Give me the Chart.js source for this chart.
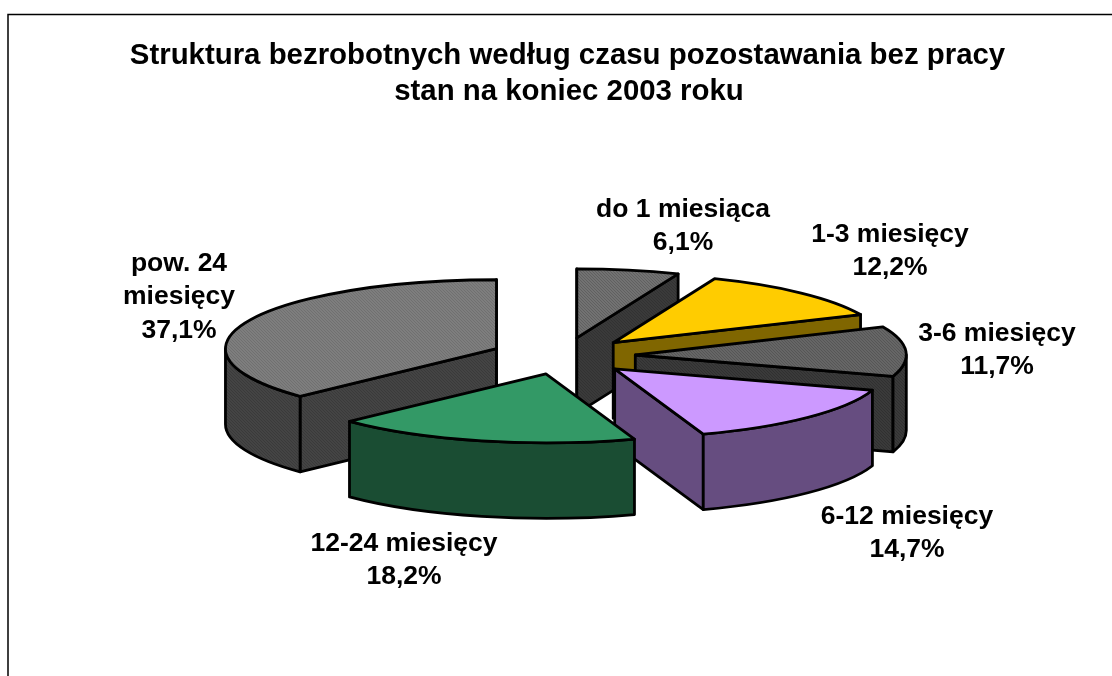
<!DOCTYPE html>
<html lang="pl">
<head>
<meta charset="utf-8">
<title>Struktura bezrobotnych</title>
<script src="https://cdn.jsdelivr.net/npm/chart.js@4"></script>
<style>
    html, body { margin: 0; padding: 0; background: #fff; overflow: hidden; }
    #wrap { width: 1112px; height: 676px; }
</style>
</head>
<body>
<div id="wrap"><canvas id="wykres" width="1112" height="676"></canvas></div>
<script>
// Dane
const kategorie = ['do 1 miesiąca', '1-3 miesięcy', '3-6 miesięcy', '6-12 miesięcy', '12-24 miesięcy', 'pow. 24 miesięcy'];
const udzialy = [6.1, 12.2, 11.7, 14.7, 18.2, 37.1];
const tytul = ['Struktura bezrobotnych według czasu pozostawania bez pracy', 'stan na koniec 2003 roku'];

// Kolory: [góra, bok]; dwa odcienie w szarych wycinkach dają raster jak w oryginale
const koloryGora = [['#727272', '#606060'], '#ffcc00', ['#666666', '#565656'], '#cc99ff', '#339966', ['#7e7e7e', '#707070']];
const koloryBok = [['#3a3a3a', '#323232'], '#806600', ['#3a3a3a', '#303030'], '#664d80', '#1a4d33', ['#444444', '#3a3a3a']];

// Ustawienia rzutu 3D
const splaszczenie = 69 / 271;
const wysuniecie = 72.4;
const glebokosc = 75.5;

// Pozycje podpisów (środek tekstu, górna linia), wiersze rozbite jak w oryginale
const podpisy = [
    { x: 683, y: 196, wiersze: ['do 1 miesiąca', '6,1%'] },
    { x: 890, y: 221, wiersze: ['1-3 miesięcy', '12,2%'] },
    { x: 997, y: 320, wiersze: ['3-6 miesięcy', '11,7%'] },
    { x: 907, y: 503, wiersze: ['6-12 miesięcy', '14,7%'] },
    { x: 404, y: 530, wiersze: ['12-24 miesięcy', '18,2%'] },
    { x: 179, y: 250, wiersze: ['pow. 24', 'miesięcy', '37,1%'] }
];

function wypelnienie(ctx, kolor) {
    if (typeof kolor === 'string') return kolor;
    const c = document.createElement('canvas');
    c.width = 3;
    c.height = 3;
    const k = c.getContext('2d');
    k.fillStyle = kolor[0];
    k.fillRect(0, 0, 3, 3);
    k.fillStyle = kolor[1];
    k.fillRect(0, 0, 1, 1);
    k.fillRect(1, 1, 1, 1);
    k.fillRect(2, 2, 1, 1);
    return ctx.createPattern(c, 'repeat');
}

// Rysuje wycinki z geometrii elementów łuku policzonej przez Chart.js
const pie3d = {
    id: 'pie3d',
    beforeDatasetDraw(chart, args) {
        const ctx = chart.ctx;
        const luki = args.meta.data;

        ctx.save();
        ctx.lineWidth = 2.8;
        ctx.lineJoin = 'round';
        ctx.strokeStyle = '#000';

        // kolejność jak w oryginale: najpierw tylny lewy wycinek
        [5, 0, 1, 2, 3, 4].forEach(i => {
            const { x, y, startAngle, endAngle, outerRadius: r } = luki[i];
            const ry = r * splaszczenie;
            const srodek = (startAngle + endAngle) / 2;
            const cx = x + Math.cos(srodek) * wysuniecie;
            const cy = y + Math.sin(srodek) * wysuniecie * splaszczenie;
            const px = a => cx + Math.cos(a) * r;
            const py = a => cy + Math.sin(a) * ry;
            const bok = wypelnienie(ctx, koloryBok[i]);

            // boczne ściany promieniowe, tylko te zwrócone do widza
            const sciana = a => {
                ctx.beginPath();
                ctx.moveTo(cx, cy);
                ctx.lineTo(px(a), py(a));
                ctx.lineTo(px(a), py(a) + glebokosc);
                ctx.lineTo(cx, cy + glebokosc);
                ctx.closePath();
                ctx.fillStyle = bok;
                ctx.fill();
                ctx.stroke();
            };
            if (Math.cos(startAngle) <= 0.001) sciana(startAngle);
            if (Math.cos(endAngle) >= -0.001) sciana(endAngle);

            // zewnętrzna ściana łuku (przednia połowa elipsy, kąty 0..PI)
            const a0 = Math.max(startAngle, 0);
            const a1 = Math.min(endAngle, Math.PI);
            if (a1 > a0) {
                ctx.beginPath();
                ctx.ellipse(cx, cy, r, ry, 0, a0, a1);
                ctx.lineTo(px(a1), py(a1) + glebokosc);
                ctx.ellipse(cx, cy + glebokosc, r, ry, 0, a1, a0, true);
                ctx.closePath();
                ctx.fillStyle = bok;
                ctx.fill();
                ctx.stroke();
            }

            // góra wycinka
            ctx.beginPath();
            ctx.moveTo(cx, cy);
            ctx.ellipse(cx, cy, r, ry, 0, startAngle, endAngle);
            ctx.closePath();
            ctx.fillStyle = wypelnienie(ctx, koloryGora[i]);
            ctx.fill();
            ctx.stroke();
        });
        ctx.restore();
        return false;
    },
    afterDraw(chart) {
        const ctx = chart.ctx;
        ctx.save();
        // ramka obszaru wykresu
        ctx.strokeStyle = '#000';
        ctx.lineWidth = 1.5;
        ctx.beginPath();
        ctx.moveTo(8, 676);
        ctx.lineTo(8, 14.5);
        ctx.lineTo(1112, 14.5);
        ctx.stroke();

        ctx.fillStyle = '#000';
        ctx.textAlign = 'center';
        ctx.textBaseline = 'middle';

        // tytuł rysowany tutaj, bo wbudowany jest ściskany do szerokości z paddingiem
        ctx.font = 'bold 29.4px "Liberation Sans", Arial, sans-serif';
        ctx.fillText(tytul[0], 567.5, 56);
        ctx.fillText(tytul[1], 569, 92);

        // podpisy danych
        ctx.font = 'bold 26.5px "Liberation Sans", Arial, sans-serif';
        ctx.textBaseline = 'top';
        podpisy.forEach(p => {
            p.wiersze.forEach((w, n) => ctx.fillText(w, p.x, p.y + n * 33.5));
        });
        ctx.restore();
    }
};

new Chart(document.getElementById('wykres'), {
    type: 'pie',
    data: {
        labels: kategorie,
        datasets: [{
            data: udzialy,
            backgroundColor: koloryGora.map(k => typeof k === 'string' ? k : k[0]),
            borderWidth: 0
        }]
    },
    options: {
        responsive: false,
        animation: false,
        layout: { padding: { left: 292, right: 278, top: 85, bottom: 49 } },
        plugins: {
            legend: { display: false },
            tooltip: { enabled: false }
        }
    },
    plugins: [pie3d]
});
</script>
</body>
</html>
